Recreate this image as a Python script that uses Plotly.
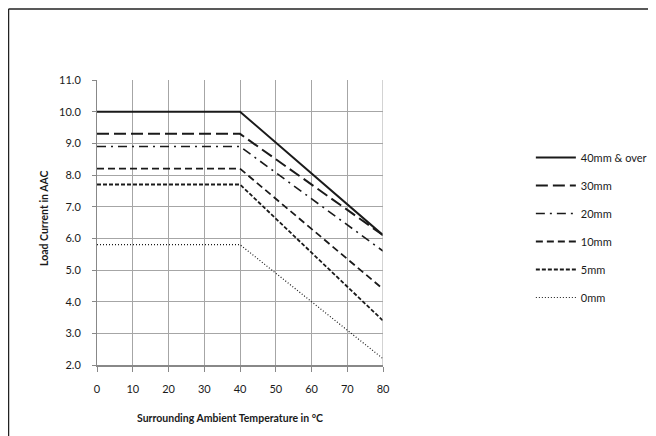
import plotly.graph_objects as go

# Derating curves: load current vs surrounding ambient temperature
temperature = [0, 40, 80]
series_names = ['40mm & over', '30mm', '20mm', '10mm', '5mm', '0mm']
current_40mm = [10.0, 10.0, 6.1]
current_30mm = [9.3, 9.3, 6.1]
current_20mm = [8.9, 8.9, 5.6]
current_10mm = [8.2, 8.2, 4.4]
current_5mm = [7.7, 7.7, 3.4]
current_0mm = [5.8, 5.8, 2.2]

series_values = [current_40mm, current_30mm, current_20mm,
                 current_10mm, current_5mm, current_0mm]
dashes = ['solid', '12px,5px', '9px,5px,2px,5px', '7px,4px', '4px,2px', '1px,2px']
widths = [2, 2, 1.6, 1.8, 1.8, 1.2]

fig = go.Figure()
for name, vals, dash, w in zip(series_names, series_values, dashes, widths):
    fig.add_trace(go.Scatter(x=temperature, y=vals, mode='lines', name=name,
                             legendgroup=name,
                             line=dict(color='#1a1a1a', width=w, dash=dash)))

# page body adds 8px offset, so the margins are shifted to compensate
L, T, W, H = 89, 72, 286, 285
fig.update_layout(
    width=656, height=436,
    margin=dict(l=L, r=656 - L - W, t=T, b=436 - T - H, autoexpand=False),
    plot_bgcolor='white', paper_bgcolor='white',
    font=dict(family='Lato, Carlito, sans-serif', size=11, color='#1a1a1a'),
    showlegend=True,
    legend=dict(x=1.517, y=0.779, xanchor='left', yanchor='top',
                font=dict(size=11), tracegroupgap=9, itemwidth=40,
                bgcolor='rgba(0,0,0,0)'),
)
fig.update_xaxes(
    range=[0, 80], dtick=10, tick0=0, automargin=False,
    showgrid=True, gridcolor='#a6a6a6', gridwidth=1,
    showline=True, linecolor='#888888', linewidth=2,
    ticks='outside', ticklen=5, tickcolor='#888888', ticklabelstandoff=8,
    zeroline=False,
)
fig.update_yaxes(
    range=[2, 11], dtick=1, tick0=2, tickformat='.1f', automargin=False,
    showgrid=True, gridcolor='#a6a6a6', gridwidth=1,
    showline=True, linecolor='#888888', linewidth=1,
    ticks='outside', ticklen=4, tickcolor='#888888', ticklabelstandoff=9,
    zeroline=False,
)
# axis titles placed as annotations
fig.add_annotation(text='<b>Surrounding Ambient Temperature in °C</b>', xref='paper', yref='paper',
                   x=0.465, y=-0.186, showarrow=False, font=dict(size=10.5),
                   xanchor='center', yanchor='middle')
fig.add_annotation(text='<b>Load Current in AAC</b>', xref='paper', yref='paper',
                   x=-0.185, y=0.516, showarrow=False, textangle=-90, font=dict(size=10.5),
                   xanchor='center', yanchor='middle')
# right edge gridline
fig.add_shape(type='line', xref='x', yref='paper', x0=80, x1=80, y0=0, y1=1,
              line=dict(color='#a6a6a6', width=1))
# outer frame: top and left edges
fx0 = (0.5 - L) / W
fy_top = (T + H - 1) / H
fy_bot = (T + H - 440) / H
fig.add_shape(type='line', xref='paper', yref='paper', x0=fx0, x1=(660 - L) / W,
              y0=fy_top, y1=fy_top, line=dict(color='#222222', width=1.5))
fig.add_shape(type='line', xref='paper', yref='paper', x0=fx0, x1=fx0,
              y0=fy_bot, y1=fy_top, line=dict(color='#222222', width=1.5))

fig.write_html("out.html")
